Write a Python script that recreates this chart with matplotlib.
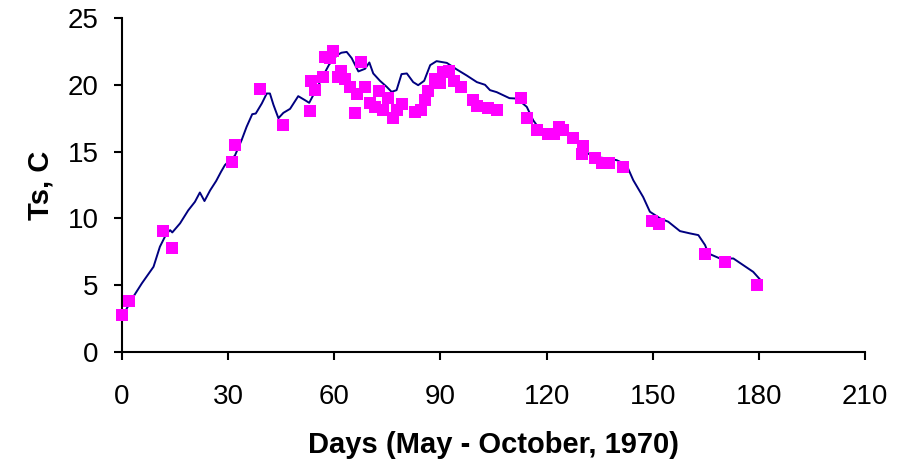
import matplotlib.pyplot as plt

# modelled soil temperature (line)
line_days = [0, 1, 3.2, 5.6, 8.9, 10.7, 12.6, 13.6, 14.2, 16.4, 18.7, 20.6, 22.0, 23.3,
             24.9, 26.6, 28.0, 29.1, 31.9, 33.8, 35.2, 36.8, 37.8, 39.5, 40.9, 41.8, 42.8,
             44.2, 45.6, 47.5, 49.8, 51.7, 52.9, 54.2, 56.9, 58.5, 60.7, 62.0, 63.5, 64.9,
             66.8, 68.7, 69.9, 71.0, 72.9, 74.8, 76.2, 77.6, 79.0, 80.5, 82.3, 83.7, 85.4,
             87.1, 88.9, 91.8, 94.6, 97.4, 100.3, 102.6, 104.0, 105.9, 109.5, 111.6, 114.4,
             116.2, 118.6, 122.4, 126.1, 128.0, 130.4, 133.2, 137.0, 139.8, 142.6, 144.5,
             147.3, 149.2, 152.1, 154.4, 157.7, 160.5, 162.9, 164.8, 165.7, 169.0, 172.8,
             175.6, 178.4, 180.3]
line_ts = [2.8, 3.1, 4.14, 5.14, 6.38, 7.88, 8.88, 9.12, 8.95, 9.63, 10.6, 11.24, 11.94, 11.3,
           12.1, 12.8, 13.5, 14.0, 14.7, 15.86, 16.85, 17.8, 17.85, 18.6, 19.35, 19.35, 18.5,
           17.5, 17.9, 18.2, 19.15, 18.85, 18.65, 19.3, 20.7, 21.5, 22.2, 22.4, 22.46, 22.0,
           21.0, 21.2, 21.67, 20.85, 20.3, 19.85, 19.47, 19.6, 20.8, 20.85, 20.2, 19.97, 20.3,
           21.47, 21.77, 21.64, 21.15, 20.7, 20.2, 20.0, 19.6, 19.45, 19.0, 18.97, 18.35,
           17.35, 16.48, 16.48, 16.4, 15.86, 15.1, 14.6, 14.5, 14.36, 14.0, 12.86,
           11.6, 10.5, 10.0, 9.75, 9.05, 8.88, 8.75, 8.0, 7.38, 7.0, 7.0,
           6.5, 6.0, 5.44]

# measured values (squares)
obs_days = [0, 2, 11.5, 14, 31, 32, 39, 45.5, 53, 53.5, 54.5, 56.7, 57.4, 58.8, 59.5, 61.1,
            61.8, 63, 64.4, 65.9, 66.5, 67.5, 68.7, 70.1, 71.5, 72.7, 73.9, 75.3, 76.5, 77.6,
            79.0, 82.8, 84.4, 85.6, 86.6, 88.5, 89.9, 90.6, 92.5, 93.8, 95.7, 99.3, 100.3,
            103.5, 105.9, 112.7, 114.4, 117.4, 120.5, 122.1, 123.6, 124.7, 127.6, 130.4,
            129.9, 133.7, 135.6, 137.7, 141.7, 149.7, 151.9, 164.9, 170.4, 179.6]
obs_ts = [2.8, 3.85, 9.05, 7.75, 14.2, 15.5, 19.7, 17.0, 18.05, 20.3, 19.6, 20.6, 22.1, 22.0,
          22.5, 20.6, 21.0, 20.4, 19.85, 17.9, 19.3, 21.7, 19.85, 18.65, 18.35, 19.5, 18.1,
          19.0, 17.5, 18.1, 18.55, 18.0, 18.1, 18.85, 19.55, 20.4, 20.15, 20.95, 21.05, 20.3,
          19.85, 18.85, 18.4, 18.3, 18.1, 19.0, 17.5, 16.6, 16.3, 16.35, 16.85, 16.6, 16.0,
          15.4, 14.8, 14.5, 14.15, 14.15, 13.85, 9.8, 9.55, 7.3, 6.7, 5.0]

plt.rcParams['font.family'] = ['Liberation Sans', 'DejaVu Sans']

fig = plt.figure(figsize=(9, 4.66), dpi=100)
ax = fig.add_axes([0.1356, 0.2446, 0.8255, 0.7168])

ax.plot(line_days, line_ts, color='#000080', lw=1.4, zorder=2)
ax.plot(obs_days, obs_ts, 's', color='#ff00ff', markersize=8.2, markeredgewidth=0,
        zorder=3, clip_on=False)

ax.set_xlim(0, 210)
ax.set_ylim(0, 25)
ax.set_xticks(range(0, 211, 30))
ax.set_yticks(range(0, 26, 5))

for s in ['top', 'right']:
    ax.spines[s].set_visible(False)
for s in ['left', 'bottom']:
    ax.spines[s].set_linewidth(1.5)
    ax.spines[s].set_color('black')

ax.tick_params(axis='both', direction='out', length=6, width=1.5, labelsize=20)
ax.tick_params(axis='x', pad=17)
ax.tick_params(axis='y', pad=11)

ax.set_xlabel('Days (May - October, 1970)', fontsize=21, fontweight='bold', labelpad=15)
ax.set_ylabel('Ts, C', fontsize=21, fontweight='bold', labelpad=9)

fig.savefig('out.png', dpi=100)
